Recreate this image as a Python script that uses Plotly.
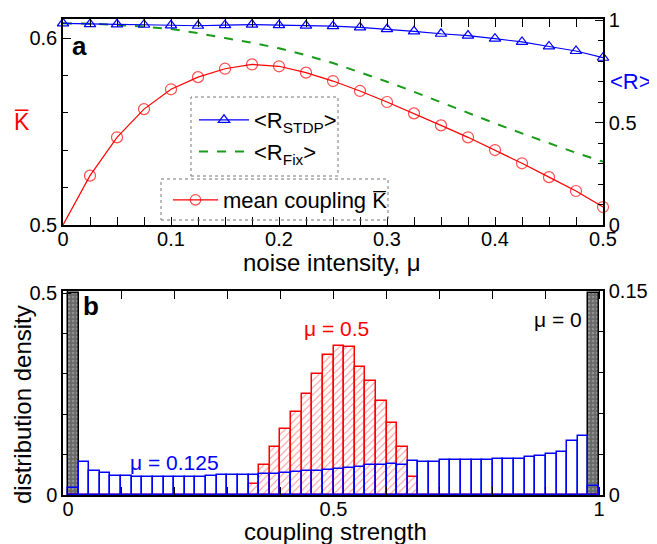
import plotly.graph_objects as go

FONT = "Liberation Sans, Arial, sans-serif"

# ---------------- panel a data ----------------
mu = [0.0, 0.025, 0.05, 0.075, 0.1, 0.125, 0.15, 0.175, 0.2, 0.225, 0.25,
      0.275, 0.3, 0.325, 0.35, 0.375, 0.4, 0.425, 0.45, 0.475, 0.5]
K_mean = [0.5, 0.5264, 0.5469, 0.5620, 0.5726, 0.5791, 0.5836, 0.5859, 0.5849, 0.5815, 0.5770,
          0.5717, 0.5658, 0.5597, 0.5533, 0.5469, 0.5401, 0.5330, 0.5256, 0.5182, 0.5096]
R_stdp = [0.984, 0.980, 0.979, 0.977, 0.974, 0.972, 0.975, 0.978, 0.975, 0.973, 0.970,
          0.964, 0.956, 0.945, 0.933, 0.924, 0.909, 0.893, 0.871, 0.849, 0.816]
R_fix = [0.984, 0.982, 0.976, 0.968, 0.956, 0.936, 0.912, 0.889, 0.862, 0.828, 0.790,
         0.745, 0.699, 0.650, 0.598, 0.546, 0.496, 0.447, 0.398, 0.352, 0.309]

# ---------------- panel b data ----------------
bin_width = 0.02
bin_centers = [round(0.01 + 0.02 * i, 3) for i in range(50)]
dens_mu0_x = [0.01, 0.99]
dens_mu0 = [0.5, 0.5]
dens_mu0125 = [0.0049, 0.0245, 0.0174, 0.0159, 0.0140, 0.0140, 0.0135, 0.0133, 0.0133, 0.0135,
               0.0134, 0.0133, 0.0135, 0.0140, 0.0145, 0.0145, 0.0147, 0.0150, 0.0152, 0.0155,
               0.0164, 0.0166, 0.0174, 0.0179, 0.0186, 0.0194, 0.0201, 0.0208, 0.0221, 0.0223,
               0.0228, 0.0221, 0.0250, 0.0243, 0.0243, 0.0255, 0.0254, 0.0254, 0.0257, 0.0255,
               0.0262, 0.0267, 0.0267, 0.0277, 0.0284, 0.0301, 0.0316, 0.0397, 0.0436, 0.0064]
dens_mu05 = [0.0] * 17 + [0.0078, 0.0221, 0.0351, 0.0485, 0.0613, 0.0740, 0.0887, 0.1029,
                          0.1096, 0.1086, 0.0944, 0.0841, 0.0691, 0.0527, 0.0355, 0.0130] + [0.0] * 17

# the first red point (origin) has no marker
K_marker_sizes = [0] + [11] * (len(mu) - 1)

fig = go.Figure()

# ---- panel a ----
fig.add_trace(go.Scatter(
    x=mu, y=K_mean, mode="lines+markers", name="mean coupling K̅",
    line=dict(color="#ff0000", width=1.2),
    marker=dict(symbol="circle-open", size=K_marker_sizes, color="#ff0000", line=dict(width=1.2)),
    xaxis="x", yaxis="y", cliponaxis=False, legend="legend2"))
fig.add_trace(go.Scatter(
    x=mu, y=R_fix, mode="lines", name="&lt;R<sub>Fix</sub>&gt;",
    line=dict(color="#1a9a1a", width=2, dash="dash"),
    xaxis="x", yaxis="y2", legend="legend"))
fig.add_trace(go.Scatter(
    x=mu, y=R_stdp, mode="lines+markers", name="&lt;R<sub>STDP</sub>&gt;",
    line=dict(color="#0000ff", width=1.2),
    marker=dict(symbol="triangle-up-open", size=10, color="#0000ff", line=dict(width=1.2)),
    xaxis="x", yaxis="y2", cliponaxis=False, legend="legend"))

# ---- panel b ----
fig.add_trace(go.Bar(
    x=dens_mu0_x, y=dens_mu0, width=bin_width, showlegend=False,
    marker=dict(color="#6a6a6a", line=dict(color="black", width=1.5),
                pattern=dict(shape=".", fgcolor="#b8b8b8", bgcolor="#6a6a6a", size=4, solidity=0.3)),
    xaxis="x2", yaxis="y3"))
fig.add_trace(go.Bar(
    x=bin_centers, y=dens_mu05, width=bin_width, showlegend=False,
    marker=dict(color="white", line=dict(color="#ff0000", width=1.5),
                pattern=dict(shape="/", fgcolor="#ff2020", bgcolor="white", size=5, solidity=0.2)),
    xaxis="x2", yaxis="y4"))
fig.add_trace(go.Bar(
    x=bin_centers, y=dens_mu0125, width=bin_width, showlegend=False,
    marker=dict(color="rgba(0,0,0,0)", line=dict(color="#0000ff", width=1.5)),
    xaxis="x2", yaxis="y4"))

TICK = 20
axis_common = dict(showline=True, linecolor="black", linewidth=1.5, showgrid=False,
                   zeroline=False, ticks="inside", ticklen=8, tickwidth=1.2, tickcolor="black",
                   automargin=False,
                   tickfont=dict(size=TICK, color="black", family=FONT))

def minor(dt, t0=0):
    return dict(dtick=dt, tick0=t0, ticks="inside", ticklen=5, tickwidth=1, tickcolor="black")

# page pixel -> paper coordinates (plot area spans x 63..603, y 19..495 on the page)
def px(x):
    return (x - 63) / 540

def py(y):
    return (495 - y) / 476

def label(text, x, y, size, color="black", angle=0):
    return dict(text=text, x=px(x), y=py(y), xref="paper", yref="paper",
                xanchor="center", yanchor="middle", textangle=angle,
                showarrow=False, font=dict(size=size, color=color, family=FONT))

top_lo = py(225)
bot_hi = py(291)

# the html body has an 8px default margin, so the figure is drawn 8px in from the top-left
OFF = 8

fig.update_layout(
    width=657 - OFF, height=544 - OFF,
    margin=dict(l=63 - OFF, r=54, t=19 - OFF, b=49),
    paper_bgcolor="white", plot_bgcolor="white",
    font=dict(family=FONT, size=TICK, color="black"),
    barmode="overlay", bargap=0,
    xaxis=dict(axis_common, domain=[0, 1], anchor="y", range=[0, 0.5],
               tickvals=[0, 0.1, 0.2, 0.3, 0.4, 0.5], ticktext=["0", "0.1", "0.2", "0.3", "0.4", "0.5"],
               minor=minor(0.025), mirror="allticks", ticklabelstandoff=-5),
    yaxis=dict(axis_common, domain=[top_lo, 1], anchor="x", range=[0.5, 0.6102],
               tickvals=[0.5, 0.6], ticktext=["0.5", "0.6"], minor=minor(0.02, 0.5)),
    yaxis2=dict(axis_common, overlaying="y", side="right", anchor="x", range=[0, 1.005],
                tickvals=[0, 0.5, 1], ticktext=["0", "0.5", "1"], minor=minor(0.1)),
    xaxis2=dict(axis_common, domain=[0, 1], anchor="y3", range=[-0.0094, 1.0075],
                tickvals=[0, 0.5, 1], ticktext=["0", "0.5", "1"], minor=minor(0.1),
                mirror="allticks", ticklabelstandoff=-5),
    yaxis3=dict(axis_common, domain=[0, bot_hi], anchor="x2", range=[0, 0.505],
                tickvals=[0, 0.5], ticktext=["0", "0.5"], minor=minor(0.1)),
    yaxis4=dict(axis_common, overlaying="y3", side="right", anchor="x2", range=[0, 0.15],
                tickvals=[0, 0.15], ticktext=["0", "0.15"], minor=minor(0.03)),
    legend=dict(x=px(194), y=py(99), xanchor="left", yanchor="top",
                bgcolor="rgba(255,255,255,0)", borderwidth=0, itemwidth=50,
                font=dict(size=22, family=FONT), traceorder="reversed", tracegroupgap=0),
    legend2=dict(x=px(168), y=py(179), xanchor="left", yanchor="top",
                 bgcolor="rgba(255,255,255,0)", borderwidth=0, itemwidth=45,
                 font=dict(size=22, family=FONT)),
    shapes=[
        dict(type="rect", xref="paper", yref="paper",
             x0=px(191), x1=px(338), y0=py(176), y1=py(97),
             line=dict(color="#777777", width=1, dash="dot")),
        dict(type="rect", xref="paper", yref="paper",
             x0=px(161), x1=px(388), y0=py(220), y1=py(179),
             line=dict(color="#777777", width=1, dash="dot")),
    ],
    annotations=[
        label("<b>a</b>", 79, 46, 26),
        label("K̅", 22, 122, 23, "#ff0000"),
        label("&lt;R&gt;", 631, 82, 22, "#0000ff"),
        label("noise intensity, μ", 331, 263, 24),
        label("<b>b</b>", 91, 306, 26),
        label("μ = 0.5", 336, 328, 21, "#ff0000"),
        label("μ = 0.125", 174, 462, 21, "#0000ff"),
        label("μ = 0", 558, 319, 21),
        label("distribution density", 22, 405, 24, angle=-90),
        label("coupling strength", 335, 531, 24),
    ],
)

fig.write_html("out.html")
